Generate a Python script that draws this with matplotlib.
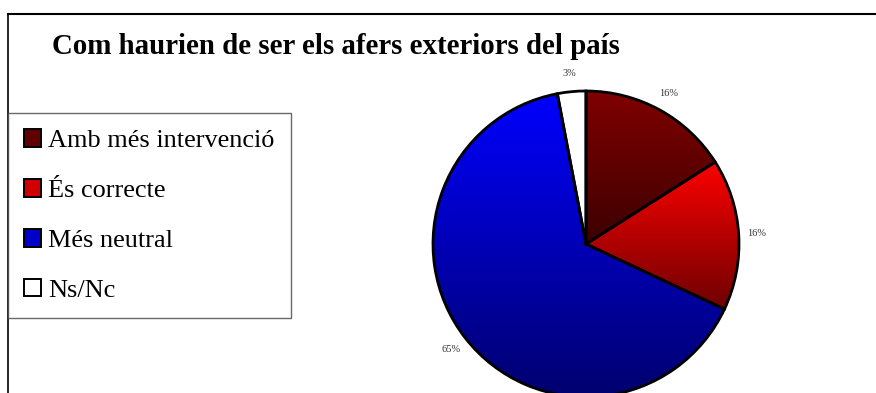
import matplotlib.pyplot as plt
import numpy as np
from matplotlib.lines import Line2D
from matplotlib.patches import Patch
from matplotlib.colors import LinearSegmentedColormap

plt.rcParams['font.family'] = ['Liberation Serif', 'DejaVu Serif']

categories = ['Amb més intervenció', 'És correcte', 'Més neutral', 'Ns/Nc']
values = [16, 16, 65, 3]
# top / bottom colours of each slice's vertical gradient
grad_top = ['#800000', '#ff0000', '#0000ff', '#ffffff']
grad_bottom = ['#3c0000', '#6e0000', '#00006e', '#ffffff']
legend_colors = ['#600000', '#d00000', '#0000c8', '#ffffff']

W, H = 876, 393
fig = plt.figure(figsize=(W / 100, H / 100), dpi=100)

# pie axes: centre at (586, 244) px, radius 153 px
cx, cy, r = 586, 244, 153
ax = fig.add_axes([(cx - r) / W, (H - cy - r) / H, 2 * r / W, 2 * r / H])
wedges, texts, autotexts = ax.pie(
    values,
    startangle=90,
    counterclock=False,
    colors=grad_top,
    autopct='%1.0f%%',
    pctdistance=1.12,
    wedgeprops=dict(edgecolor='black', linewidth=2),
    textprops=dict(fontsize=7.5, color='#333333'),
)
ax.set_aspect('equal')
ax.axis('off')

# vertical gradient inside every slice
for w, c1, c2 in zip(wedges, grad_top, grad_bottom):
    path = w.get_path().transformed(w.get_patch_transform())
    ext = path.get_extents()
    cmap = LinearSegmentedColormap.from_list('g', [c2, c1])
    grad = np.linspace(0, 1, 256).reshape(-1, 1)
    im = ax.imshow(grad, cmap=cmap, origin='lower', aspect='auto',
                   extent=[ext.x0, ext.x1, ext.y0, ext.y1], zorder=w.get_zorder() - 0.1)
    im.set_clip_path(w)
    w.set_facecolor('none')
ax.set_xlim(-1, 1)
ax.set_ylim(-1, 1)

# title
fig.text(52 / W, 1 - 46 / H, 'Com haurien de ser els afers exteriors del país',
         fontsize=20.8, fontweight='bold', va='center', ha='left')

# frame lines (top and left)
fig.add_artist(Line2D([8 / W, 1], [1 - 14 / H, 1 - 14 / H], color='black', lw=1.5))
fig.add_artist(Line2D([8 / W, 8 / W], [1 - 14 / H, 0], color='black', lw=1.2))

# legend
handles = [Patch(facecolor=c, edgecolor='black', linewidth=1.4) for c in legend_colors]
leg = fig.legend(handles, categories, loc='upper left',
                 bbox_to_anchor=(8 / W, 1 - 113 / H),
                 fontsize=18.9, frameon=True, fancybox=False,
                 edgecolor='#444444', borderpad=0.62, labelspacing=1.03,
                 handlelength=0.64, handleheight=0.64, handletextpad=0.27,
                 borderaxespad=0)
leg.get_frame().set_linewidth(1.0)

fig.savefig('out.png', dpi=100)
